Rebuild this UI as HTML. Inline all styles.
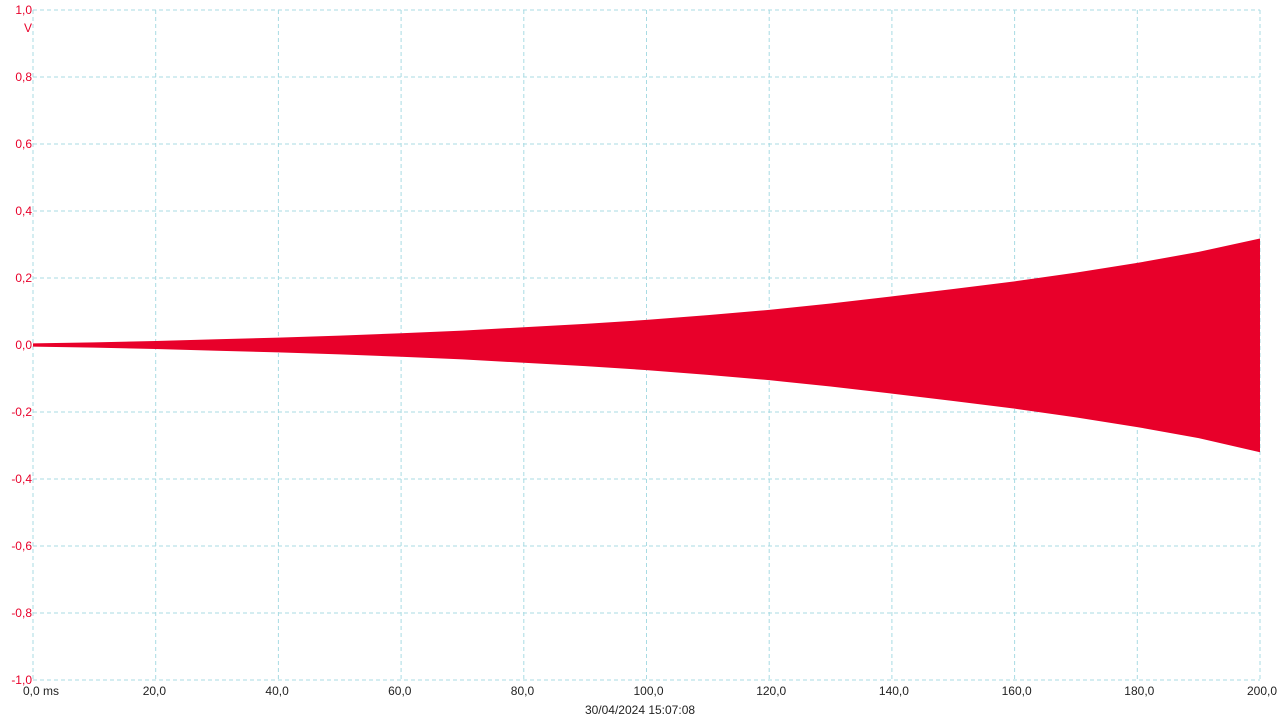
<!DOCTYPE html>
<html><head><meta charset="utf-8"><style>
html,body{margin:0;padding:0;background:#fff;}
svg{display:block;font-family:"Liberation Sans",sans-serif;}
</style></head><body>
<svg id="c" width="1280" height="720"></svg>
<script>
const timesMs=[0,10,20,30,40,50,60,70,80,90,100,110,120,130,140,150,160,170,180,190,200];
const envUpper=[0.005,0.008,0.012,0.017,0.022,0.028,0.035,0.043,0.053,0.063,0.075,0.089,0.105,0.124,0.145,0.167,0.19,0.216,0.245,0.278,0.318];
const envLower=[-0.005,-0.008,-0.012,-0.017,-0.022,-0.028,-0.035,-0.043,-0.053,-0.063,-0.075,-0.089,-0.105,-0.124,-0.145,-0.167,-0.19,-0.216,-0.245,-0.278,-0.32];
const xTicks=[0,20,40,60,80,100,120,140,160,180,200];
const xTickLabels=["0,0 ms","20,0","40,0","60,0","80,0","100,0","120,0","140,0","160,0","180,0","200,0"];
const yTicks=[1,0.8,0.6,0.4,0.2,0,-0.2,-0.4,-0.6,-0.8,-1];
const yTickLabels=["1,0","0,8","0,6","0,4","0,2","0,0","-0,2","-0,4","-0,6","-0,8","-1,0"];
const L=33,R=1260,T=10,B=680;
const xs=t=>L+(t-0)/(200-0)*(R-L);
const ys=v=>T+(1-v)/2*(B-T);
const svg=document.getElementById('c');
const NS='http://www.w3.org/2000/svg';
function mk(tag,attrs){const e=document.createElementNS(NS,tag);for(const k in attrs)e.setAttribute(k,attrs[k]);svg.appendChild(e);return e;}
xTicks.forEach((t,i)=>{
  const l=mk('line',{x1:xs(t),x2:xs(t),y1:T,y2:B,stroke:'#a8dbe3','stroke-width':1,'stroke-dasharray':'4,3'});
  
  
  const tx=mk('text',{x:xs(t)-(i==0?10:13),y:695,'font-size':12,fill:'#222'});
  tx.textContent=xTickLabels[i];
  
  
});
yTicks.forEach((v,i)=>{
  const l=mk('line',{x1:L,x2:R,y1:ys(v),y2:ys(v),stroke:'#a8dbe3','stroke-width':1,'stroke-dasharray':'4,3'});
  
  
  const tx=mk('text',{x:32,y:ys(v)+4,'font-size':12,fill:'#e8002a','text-anchor':'end'});
  tx.textContent=yTickLabels[i];
  
  
});
let pts=timesMs.map((t,i)=>xs(t)+','+ys(envUpper[i]));
for(let i=timesMs.length-1;i>=0;i--)pts.push(xs(timesMs[i])+','+ys(envLower[i]));
const p=mk('polygon',{points:pts.join(' '),fill:'#e8002a'});


const u=mk('text',{x:32,y:32,'font-size':12,fill:'#e8002a','text-anchor':'end'});
u.textContent='V';


const d=mk('text',{x:640,y:714,'font-size':12,fill:'#222','text-anchor':'middle'});
d.textContent='30/04/2024 15:07:08';


</script>
</body></html>
